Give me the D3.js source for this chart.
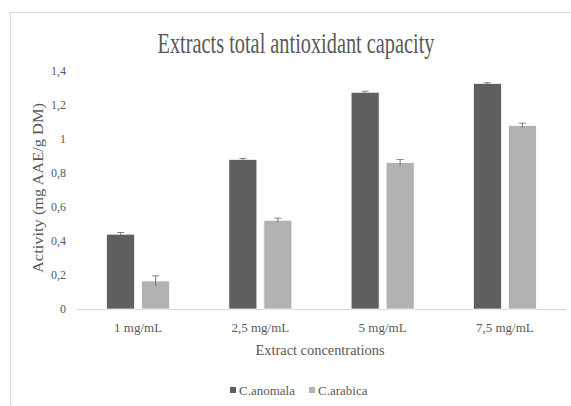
<!DOCTYPE html>
<html><head><meta charset="utf-8">
<script src="https://cdn.jsdelivr.net/npm/d3@7"></script>
<style>body{margin:0;background:#fff}svg{display:block}</style>
</head><body>
<script>
const categories = ["1 mg/mL", "2,5 mg/mL", "5 mg/mL", "7,5 mg/mL"];
const seriesNames = ["C.anomala", "C.arabica"];
const anomala = [0.44, 0.88, 1.275, 1.327];
const anomalaErr = [0.01, 0.006, 0.006, 0.004];
const arabica = [0.165, 0.522, 0.861, 1.08];
const arabicaErr = [0.03, 0.012, 0.018, 0.013];
const yTicks = [0, 0.2, 0.4, 0.6, 0.8, 1, 1.2, 1.4];
const colors = ["#5f5f5f", "#b2b2b2"];

const W = 571, H = 406;
const FONT = "Liberation Serif";
const svg = d3.select("body").append("svg").attr("width", W).attr("height", H);
svg.append("rect").attr("x", 10.5).attr("y", 12.5).attr("width", 600).attr("height", 500)
  .attr("fill", "#fff").attr("stroke", "#d9d9d9");

const m = {left: 77, right: 566, top: 71, bottom: 309};
const x = d3.scaleBand().domain(categories).range([m.left, m.right]);
const y = d3.scaleLinear().domain([0, 1.4]).range([m.bottom, m.top]);
const sub = d3.scaleBand().domain(seriesNames).range([0, x.bandwidth()]).paddingInner(0.2).paddingOuter(0.846);

// title (condensed, tall)
const tg = svg.append("g");
const title = tg.append("text").attr("x", 0).attr("y", 0).attr("text-anchor", "middle")
  .attr("font-family", FONT).attr("font-size", 30).attr("fill", "#595959").text("Extracts total antioxidant capacity");
const tw = title.node().getComputedTextLength();
tg.attr("transform", `translate(296,53) scale(${277 / tw},1)`);

// y tick labels
svg.append("g").selectAll("text").data(yTicks).join("text")
  .attr("x", 66).attr("y", d => y(d) + 4).attr("text-anchor", "end")
  .attr("font-family", FONT).attr("font-size", 12).attr("fill", "#595959")
  .text(d => String(d).replace(".", ","));

// axis line
svg.append("line").attr("x1", m.left).attr("x2", m.right).attr("y1", y(0) + 0.5).attr("y2", y(0) + 0.5)
  .attr("stroke", "#d9d9d9");

const data = [
  {name: seriesNames[0], vals: anomala, errs: anomalaErr, color: colors[0]},
  {name: seriesNames[1], vals: arabica, errs: arabicaErr, color: colors[1]}
];
data.forEach(s => {
  const g = svg.append("g");
  categories.forEach((c, i) => {
    const bx = x(c) + sub(s.name);
    const bw = sub.bandwidth();
    g.append("rect").attr("x", bx).attr("y", y(s.vals[i])).attr("width", bw)
      .attr("height", y(0) - y(s.vals[i])).attr("fill", s.color).attr("stroke", "#fff").attr("stroke-width", 0.75);
    const cx = bx + bw / 2;
    g.append("line").attr("x1", cx).attr("x2", cx).attr("y1", y(s.vals[i] + s.errs[i])).attr("y2", y(s.vals[i] - s.errs[i]))
      .attr("stroke", "#595959").attr("stroke-width", 0.75);
    g.append("line").attr("x1", cx - 3.5).attr("x2", cx + 3.5).attr("y1", y(s.vals[i] + s.errs[i])).attr("y2", y(s.vals[i] + s.errs[i]))
      .attr("stroke", "#595959").attr("stroke-width", 0.75);
  });
});

// x labels
svg.append("g").selectAll("text").data(categories).join("text")
  .attr("x", d => x(d) + x.bandwidth() / 2).attr("y", 332).attr("text-anchor", "middle")
  .attr("font-family", FONT).attr("font-size", 13).attr("fill", "#595959").text(d => d);

svg.append("text").attr("x", 320).attr("y", 355).attr("text-anchor", "middle")
  .attr("font-family", FONT).attr("font-size", 15).attr("fill", "#595959")
  .attr("textLength", 129).attr("lengthAdjust", "spacingAndGlyphs").text("Extract concentrations");

svg.append("text").attr("transform", "translate(43,188) rotate(-90)").attr("text-anchor", "middle")
  .attr("font-family", FONT).attr("font-size", 15).attr("fill", "#595959")
  .attr("textLength", 170).attr("lengthAdjust", "spacingAndGlyphs").text("Activity (mg AAE/g DM)");

// legend
const legX = [230, 309];
seriesNames.forEach((n, i) => {
  svg.append("rect").attr("x", legX[i]).attr("y", 387).attr("width", 6).attr("height", 6).attr("fill", colors[i]);
  svg.append("text").attr("x", legX[i] + 9).attr("y", 395).attr("font-family", FONT).attr("font-size", 13)
    .attr("fill", "#595959").text(n);
});
</script>
</body></html>
